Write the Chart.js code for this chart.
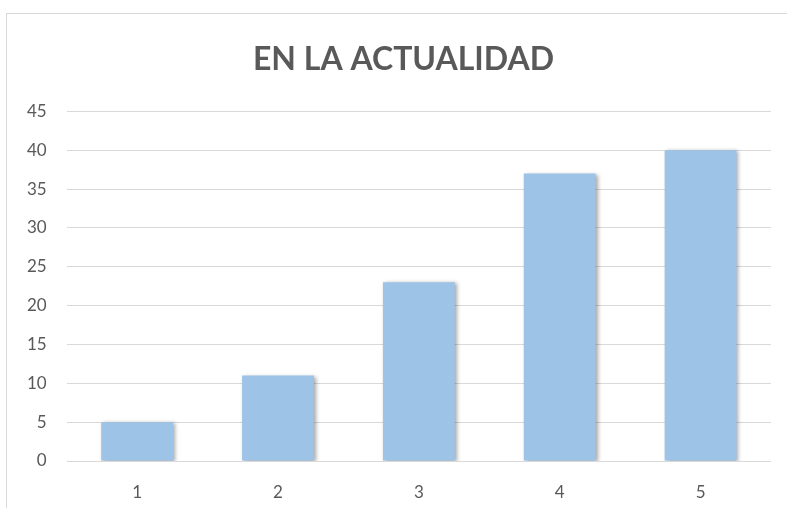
<!DOCTYPE html>
<html>
<head>
<meta charset="utf-8">
<script src="https://cdn.jsdelivr.net/npm/chart.js@4"></script>
<style>
  html, body { margin: 0; padding: 0; background: #fff; overflow: hidden; }
  #wrap { position: relative; width: 787px; height: 508px; overflow: hidden; }
  #frame { position: absolute; left: 6px; top: 13px; width: 800px; height: 520px; border: 1px solid #D9D9D9; box-sizing: border-box; }
  canvas { position: absolute; left: 0; top: 0; }
</style>
</head>
<body>
<div id="wrap">
  <div id="frame"></div>
  <!-- the original chart box runs past the right edge of the picture -->
  <canvas id="chart" width="807" height="508"></canvas>
</div>
<script>
const categories = ['1', '2', '3', '4', '5'];
const values = [5, 11, 23, 37, 40];
const yTicks = [0, 5, 10, 15, 20, 25, 30, 35, 40, 45];

// soft shadow behind the bars, like the office chart
const barShadow = {
  id: 'barShadow',
  beforeDatasetsDraw(chart) {
    const ctx = chart.ctx;
    ctx.save();
    ctx.shadowColor = 'rgba(0,0,0,0.35)';
    ctx.shadowBlur = 4;
    ctx.shadowOffsetX = 2;
    ctx.shadowOffsetY = 1;
  },
  afterDatasetsDraw(chart) {
    chart.ctx.restore();
  }
};

const ctx = document.getElementById('chart').getContext('2d');
new Chart(ctx, {
  type: 'bar',
  data: {
    labels: categories,
    datasets: [{
      data: values,
      backgroundColor: '#9DC3E6',
      borderWidth: 0,
      categoryPercentage: 1,
      barPercentage: 0.51
    }]
  },
  options: {
    responsive: false,
    animation: false,
    layout: { padding: { left: 7, right: 7, top: 40, bottom: 0 } },
    plugins: {
      legend: { display: false },
      tooltip: { enabled: false },
      title: {
        display: true,
        text: 'EN LA ACTUALIDAD',
        color: '#595959',
        font: { family: 'Lato, "Open Sans", sans-serif', size: 32, weight: 'bold' },
        padding: { top: 0, bottom: 33 }
      }
    },
    scales: {
      x: {
        grid: { display: false },
        border: { display: false },
        afterFit(axis) {
          axis.height = 47;
        },
        ticks: {
          color: '#595959',
          font: { family: 'Lato, "Open Sans", sans-serif', size: 17 },
          maxRotation: 0,
          padding: 13
        }
      },
      y: {
        min: 0,
        max: 45,
        afterBuildTicks(axis) {
          axis.ticks = yTicks.map(v => ({ value: v }));
        },
        grid: { color: '#D9D9D9', lineWidth: 1, drawTicks: false },
        border: { display: false },
        ticks: {
          color: '#595959',
          font: { family: 'Lato, "Open Sans", sans-serif', size: 17 },
          padding: 20
        }
      },
      // empty right margin so the title stays centred on the whole box
      yRight: {
        position: 'right',
        min: 0,
        max: 45,
        grid: { display: false },
        border: { display: false },
        ticks: { display: false },
        afterFit(axis) {
          axis.width = 29;
        }
      }
    }
  },
  plugins: [barShadow]
});
</script>
</body>
</html>
